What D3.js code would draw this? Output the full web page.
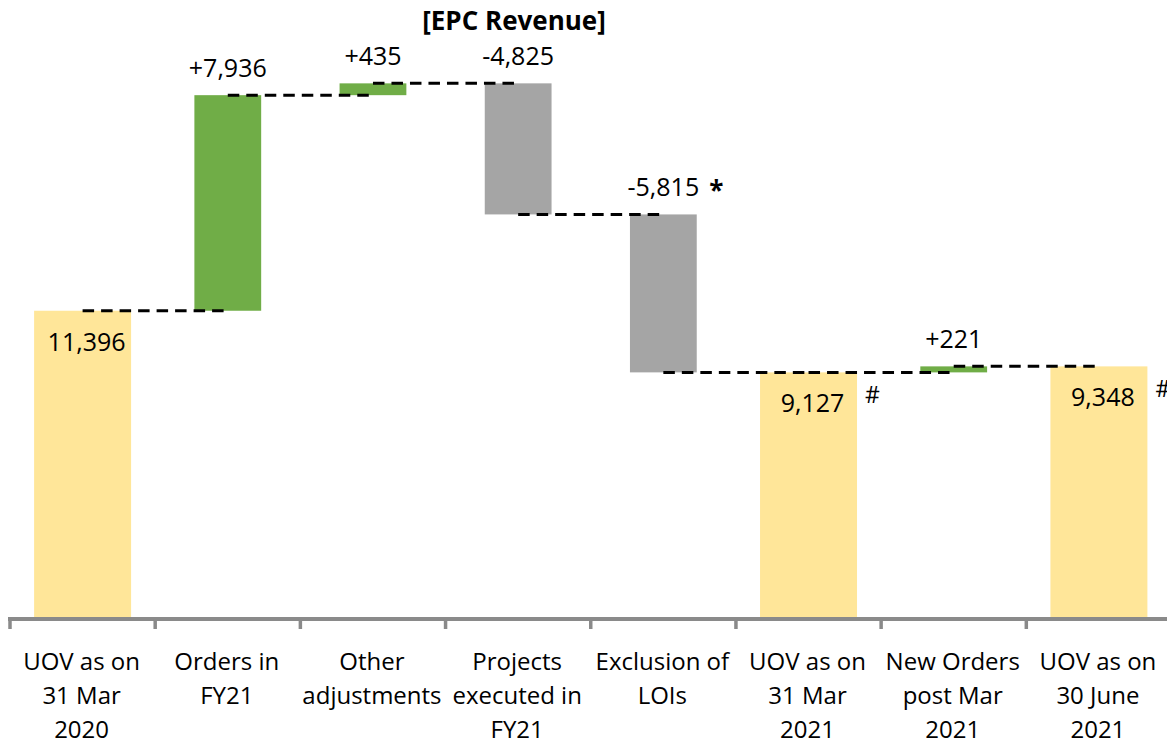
<!DOCTYPE html>
<html>
<head>
<meta charset="utf-8">
<script src="https://cdn.jsdelivr.net/npm/d3@7"></script>
<style>
  html, body { margin: 0; padding: 0; background: #fff; }
  svg { display: block; }
  text { font-family: "Open Sans", "Noto Sans", sans-serif; fill: #000; }
</style>
</head>
<body>
<svg id="chart" width="1167" height="744"></svg>
<script>
// ---- data ----
const categories = [
  "UOV as on 31 Mar 2020", "Orders in FY21", "Other adjustments",
  "Projects executed in FY21", "Exclusion of LOIs", "UOV as on 31 Mar 2021",
  "New Orders post Mar 2021", "UOV as on 30 June 2021"
];
const categoryLines = [
  ["UOV as on", "31 Mar", "2020"],
  ["Orders in", "FY21"],
  ["Other", "adjustments"],
  ["Projects", "executed in", "FY21"],
  ["Exclusion of", "LOIs"],
  ["UOV as on", "31 Mar", "2021"],
  ["New Orders", "post Mar", "2021"],
  ["UOV as on", "30 June", "2021"]
];
const values = [11396, 7936, 435, -4825, -5815, 9127, 221, 9348];
const barTypes = ["total", "up", "up", "down", "down", "total", "up", "total"];
const valueLabels = ["11,396", "+7,936", "+435", "-4,825", "-5,815", "9,127", "+221", "9,348"];
const footMarks = ["", "", "", "", "*", "#", "", "#"];
const title = "[EPC Revenue]";

// ---- build running totals ----
const rows = [];
let run = 0;
values.forEach((v, i) => {
  let start, end;
  if (barTypes[i] === "total") { start = 0; end = v; run = v; }
  else { start = run; end = run + v; run = end; }
  rows.push({ cat: categories[i], lines: categoryLines[i], type: barTypes[i],
              start, end, level: run, label: valueLabels[i], mark: footMarks[i] });
});

const colors = { total: "#FFE699", up: "#70AD47", down: "#A5A5A5" };

const svg = d3.select("#chart");
const x = d3.scaleBand().domain(categories).range([10, 1171.5]).paddingInner(0).paddingOuter(0);
const y = d3.scaleLinear().domain([0, 22000]).range([620.3, 22.7]);
const bw = x.bandwidth();
const cx = c => x(c) + bw / 2;
const barW = t => t === "total" ? bw * 0.668 : bw * 0.46;

// bars
svg.append("g").selectAll("rect").data(rows).join("rect")
  .attr("x", d => cx(d.cat) - barW(d.type) / 2)
  .attr("width", d => barW(d.type))
  .attr("y", d => y(Math.max(d.start, d.end)))
  .attr("height", d => Math.abs(y(d.start) - y(d.end)))
  .attr("fill", d => colors[d.type]);

// connectors
const conns = rows.slice(0, -1).map((d, i) => ({ x1: cx(d.cat), x2: cx(rows[i + 1].cat), v: d.level }));
svg.append("g").selectAll("line").data(conns).join("line")
  .attr("x1", d => d.x1).attr("x2", d => d.x2)
  .attr("y1", d => y(d.v)).attr("y2", d => y(d.v))
  .attr("stroke", "#000").attr("stroke-width", 3)
  .attr("stroke-dasharray", "11.5,7");

// axis
const axisY = 619;
const ag = svg.append("g");
ag.append("line").attr("x1", x.range()[0] - 2).attr("x2", x.range()[1])
  .attr("y1", axisY).attr("y2", axisY)
  .attr("stroke", "#8a8a8a").attr("stroke-width", 4);
const tickXs = categories.map(c => x(c)).concat([x.range()[1]]);
ag.selectAll("line.tick").data(tickXs).join("line").attr("class", "tick")
  .attr("x1", d => d).attr("x2", d => d)
  .attr("y1", axisY).attr("y2", axisY + 10)
  .attr("stroke", "#8a8a8a").attr("stroke-width", 3.5);

// category labels
const lg = svg.append("g");
rows.forEach(d => {
  const t = lg.append("text").attr("text-anchor", "middle").attr("font-size", 24);
  d.lines.forEach((ln, j) => {
    t.append("tspan").attr("x", cx(d.cat) - 1).attr("y", 670 + j * 34).text(ln);
  });
});

// value labels
const vg = svg.append("g");
rows.forEach(d => {
  if (d.type === "total") {
    vg.append("text").attr("text-anchor", "middle").attr("font-size", 25)
      .attr("x", cx(d.cat) + 4).attr("y", y(d.end) + 40).text(d.label);
  } else {
    const top = y(Math.max(d.start, d.end));
    vg.append("text").attr("text-anchor", "middle").attr("font-size", 25)
      .attr("x", cx(d.cat)).attr("y", top - 18).text(d.label);
  }
  if (d.mark === "*") {
    const top = y(Math.max(d.start, d.end));
    vg.append("text").attr("text-anchor", "middle").attr("font-size", 26)
      .attr("font-weight", "bold")
      .attr("x", cx(d.cat) + 53).attr("y", top - 14).text(d.mark);
  } else if (d.mark === "#") {
    vg.append("text").attr("text-anchor", "start").attr("font-size", 23)
      .attr("x", cx(d.cat) + barW(d.type) / 2 + 8).attr("y", y(d.end) + 31).text(d.mark);
  }
});

// title
svg.append("text").attr("text-anchor", "middle").attr("font-size", 26)
  .attr("font-weight", "bold").attr("x", 514).attr("y", 30).text(title);
</script>
</body>
</html>
